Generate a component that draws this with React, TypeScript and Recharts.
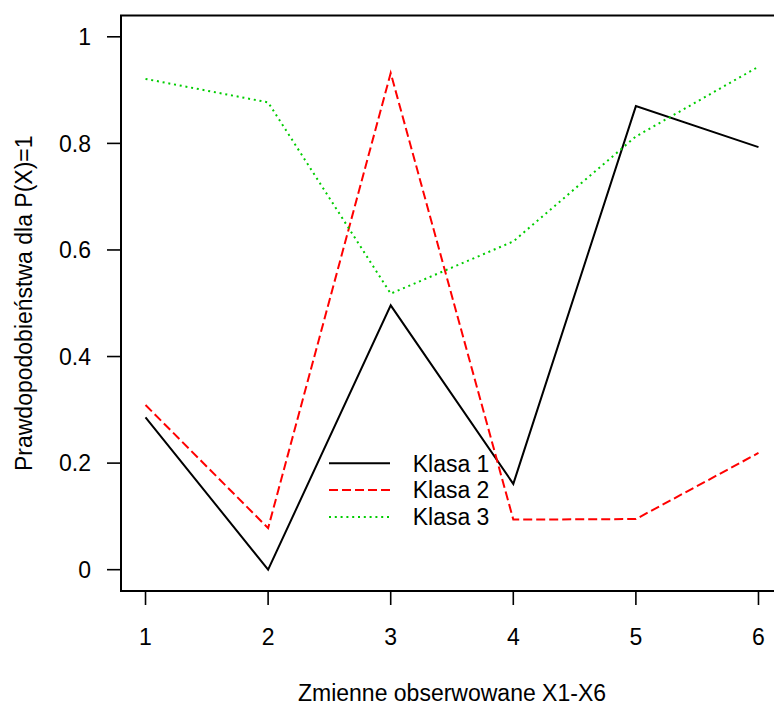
import React from 'react';
import { LineChart, Line, XAxis, YAxis, ReferenceArea, Legend } from 'recharts';

const categories = [1, 2, 3, 4, 5, 6];
const klasa1 = [0.286, 0.0, 0.496, 0.161, 0.870, 0.793];
const klasa2 = [0.309, 0.078, 0.932, 0.094, 0.095, 0.219];
const klasa3 = [0.921, 0.877, 0.518, 0.616, 0.813, 0.944];
const xTicks = [1, 2, 3, 4, 5, 6];
const yTicks = [0, 0.2, 0.4, 0.6, 0.8, 1];
const seriesNames = ['Klasa 1', 'Klasa 2', 'Klasa 3'];

const data = categories.map((c, i) => ({
  x: c,
  k1: klasa1[i],
  k2: klasa2[i],
  k3: klasa3[i],
}));

const FONT = '"Liberation Sans", Arial, sans-serif';
const FS = 23;

const styles = [
  { stroke: '#000000', dash: undefined as string | undefined },
  { stroke: '#FF0000', dash: '9 4' },
  { stroke: '#00CD00', dash: '2 3.8' },
];

const renderLegend = () => (
  <svg width={220} height={95} style={{ display: 'block', overflow: 'visible' }}>
    {seriesNames.map((name, i) => {
      const y = 18.3 + i * 26.8;
      return (
        <g key={name}>
          <line x1={9} x2={70} y1={y} y2={y} stroke={styles[i].stroke} strokeWidth={2} strokeDasharray={styles[i].dash} />
          <text x={92.7} y={y + 8.2} fontFamily={FONT} fontSize={FS} fill="#000">{name}</text>
        </g>
      );
    })}
  </svg>
);

const YLabel = (props: any) => {
  const vb = props.viewBox || {};
  const cx = vb.x + vb.width - 89;
  const cy = vb.y + vb.height / 2;
  return (
    <text x={cx} y={cy} transform={`rotate(-90 ${cx} ${cy})`} textAnchor="middle" fontFamily={FONT} fontSize={FS} fill="#000">
      Prawdopodobieństwa dla P(X)=1
    </text>
  );
};

const XLabel = (props: any) => {
  const vb = props.viewBox || {};
  const cx = vb.x + vb.width / 2;
  const cy = vb.y + 110;
  return (
    <text x={cx} y={cy} textAnchor="middle" fontFamily={FONT} fontSize={FS} fill="#000">
      Zmienne obserwowane X1-X6
    </text>
  );
};

export default function App() {
  return (
    <div style={{ position: 'fixed', left: 0, top: 0, width: 774, height: 705, overflow: 'hidden', background: '#fff' }}>
      <LineChart width={800} height={705} data={data} margin={{ top: 15.5, right: 17, bottom: 113, left: 120 }}>
        <XAxis
          dataKey="x"
          type="number"
          domain={[0.8, 6.2]}
          ticks={xTicks}
          height={1}
          axisLine={false}
          tickLine={{ stroke: '#000', strokeWidth: 1.6 }}
          tickSize={14}
          tickMargin={24}
          tick={{ fill: '#000', fontSize: FS, fontFamily: FONT }}
          interval={0}
          allowDataOverflow
          label={<XLabel />}
        />
        <YAxis
          type="number"
          domain={[-0.04, 1.04]}
          ticks={yTicks}
          width={1}
          axisLine={false}
          tickLine={{ stroke: '#000', strokeWidth: 1.6 }}
          tickSize={14}
          tickMargin={16}
          tick={{ fill: '#000', fontSize: FS, fontFamily: FONT }}
          interval={0}
          allowDataOverflow
          label={<YLabel />}
        />
        <ReferenceArea x1={0.8} x2={6.2} y1={-0.04} y2={1.04} fill="none" stroke="#000" strokeWidth={2} ifOverflow="visible" />
        <Line dataKey="k1" name={seriesNames[0]} type="linear" stroke={styles[0].stroke} strokeWidth={2} dot={false} activeDot={false} isAnimationActive={false} />
        <Line dataKey="k2" name={seriesNames[1]} type="linear" stroke={styles[1].stroke} strokeWidth={2} strokeDasharray={styles[1].dash} dot={false} activeDot={false} isAnimationActive={false} />
        <Line dataKey="k3" name={seriesNames[2]} type="linear" stroke={styles[2].stroke} strokeWidth={2} strokeDasharray={styles[2].dash} dot={false} activeDot={false} isAnimationActive={false} />
        <Legend
          layout="vertical"
          align="center"
          verticalAlign="middle"
          content={renderLegend}
          wrapperStyle={{ left: 320, top: 445, width: 220, height: 95 }}
        />
      </LineChart>
    </div>
  );
}
